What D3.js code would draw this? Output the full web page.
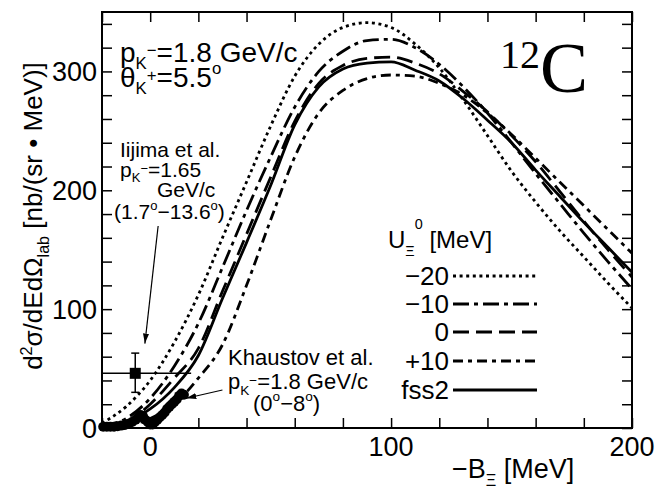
<!DOCTYPE html>
<html>
<head>
<meta charset="utf-8">
<title>12C Xi spectrum</title>
<style>
body { margin: 0; background: #fff; }
text { font-family: "Liberation Sans", Arial, sans-serif; fill: #000; }
.frame { fill: none; stroke: #000; stroke-width: 2px; }
.curve { fill: none; stroke: #000; stroke-width: 2.8px; }
</style>
</head>
<body>
<script src="https://cdn.jsdelivr.net/npm/d3@7"></script>
<script>

// -B_Xi grid [MeV] and calculated spectra [nb/(sr MeV)]
var xGrid = [-20,-10,0,10,20,30,40,50,60,70,80,90,100,110,120,130,140,150,160,170,180,190,200];
var uM20 = [4,18,40,72,112,160,207,254,296,323,337,341,337,323,303,276,246,216,190,166,144,122,101];
var uM10 = [2,8,25,52,88,135,183,228,270,300,317,326,327,320,306,287,265,240,214,189,164,140,117];
var u0   = [1,5,20,42,67,115,163,211,258,290,305,311,312,307,298,283,266,246,224,199,174,150,127];
var uP10 = [0.5,2,8,20,42,70,120,175,228,265,284,294,297,296,290,280,265,247,227,207,187,167,147];
var fss2 = [1,5,16,34,61,109,156,204,255,287,302,307,308,301,292,277,259,240,217,195,173,152,131];

// Khaustov et al. data points
var khX = [-19.5,-18,-16.5,-15,-13.5,-12,-10.5,-9,-7.5,-6,-5,-4,-3,-2,-1,0,1,2,3,4,5,6,7,8,9,10,11,12,13,14];
var khY = [1,1,1,1,1.5,2,2.5,3.5,5,7,9,11,10,7,5,3,3,5,7,9,11,13,16,18,20,22,24,27,29,28];

// Iijima et al. point
var ijX = -6.2, ijY = 46, ijXerr = [-20, 17], ijYerr = [30, 63];

var xTicks = d3.range(-20, 201, 20);
var yTicks = d3.range(0, 341, 20);
var xLabels = [0, 100, 200];
var yLabels = [0, 100, 200, 300];

var legendNames = ["\u221220", "\u221210", "0", "+10", "fss2"];
var dashes = ["3,3.6", "16,5,4,5", "16,7", "10,5,4,5", null];
var series = [uM20, uM10, u0, uP10, fss2];

var width = 656, height = 490;
var x = d3.scaleLinear().domain([-20, 200]).range([102, 632]);
var y = d3.scaleLinear().domain([0, 350]).range([428, 12]);

var svg = d3.select("body").append("svg")
    .attr("width", width)
    .attr("height", height);

svg.append("defs").append("clipPath").attr("id", "clip")
  .append("rect")
    .attr("x", x(-20)).attr("y", y(350))
    .attr("width", x(200) - x(-20)).attr("height", y(0) - y(350));

svg.append("defs").append("marker")
    .attr("id", "arrow")
    .attr("viewBox", "0 0 10 6")
    .attr("refX", 10).attr("refY", 3)
    .attr("markerWidth", 10).attr("markerHeight", 6)
    .attr("markerUnits", "userSpaceOnUse")
    .attr("orient", "auto")
  .append("path")
    .attr("d", "M0,0L10,3L0,6Z")
    .attr("fill", "#000");

// rich text with sub/superscripts: parts = [text, shift(em, +down), scale]
function rich(sel, px, py, size, parts, anchor) {
  var t = sel.append("text").attr("x", px).attr("y", py)
      .style("font-size", size + "px")
      .attr("text-anchor", anchor || "start");
  var cur = 0;
  parts.forEach(function(p) {
    var off = (p[1] || 0) * size;
    t.append("tspan")
      .attr("dy", off - cur)
      .style("font-size", (p[2] || 1) * size + "px")
      .text(p[0]);
    cur = off;
  });
  return t;
}

// curves
var line = d3.line()
    .x(function(d) { return x(d[0]); })
    .y(function(d) { return y(d[1]); })
    .curve(d3.curveMonotoneX);

var curves = svg.append("g").attr("clip-path", "url(#clip)");
series.forEach(function(s, i) {
  curves.append("path")
    .attr("class", "curve")
    .attr("d", line(xGrid.map(function(v, j) { return [v, s[j]]; })))
    .attr("stroke-dasharray", dashes[i]);
});

// Iijima point
curves.append("line")
    .attr("x1", x(ijXerr[0])).attr("x2", x(ijXerr[1]))
    .attr("y1", y(ijY)).attr("y2", y(ijY))
    .attr("stroke", "#000").attr("stroke-width", 1.5);
curves.append("line")
    .attr("x1", x(ijX)).attr("x2", x(ijX))
    .attr("y1", y(ijYerr[0])).attr("y2", y(ijYerr[1]))
    .attr("stroke", "#000").attr("stroke-width", 1.5);
[ijYerr[0], ijYerr[1]].forEach(function(v) {
  curves.append("line")
    .attr("x1", x(ijX) - 4).attr("x2", x(ijX) + 4)
    .attr("y1", y(v)).attr("y2", y(v))
    .attr("stroke", "#000").attr("stroke-width", 1.5);
});
curves.append("rect")
    .attr("x", x(ijX) - 5.5).attr("y", y(ijY) - 5.5)
    .attr("width", 11).attr("height", 11)
    .attr("fill", "#000");

// axes, ticks inward on all four sides
function noLabel(d) { return ""; }
function dropDomain(g) { g.select(".domain").remove(); }
svg.append("g")
    .attr("transform", "translate(0," + y(0) + ")")
    .call(d3.axisBottom(x).tickValues(xTicks).tickSize(-10).tickFormat(noLabel))
    .call(dropDomain);
svg.append("g")
    .attr("transform", "translate(0," + y(350) + ")")
    .call(d3.axisTop(x).tickValues(xTicks).tickSize(-10).tickFormat(noLabel))
    .call(dropDomain);
svg.append("g")
    .attr("transform", "translate(" + x(-20) + ",0)")
    .call(d3.axisLeft(y).tickValues(yTicks).tickSize(-10).tickFormat(noLabel))
    .call(dropDomain);
svg.append("g")
    .attr("transform", "translate(" + x(200) + ",0)")
    .call(d3.axisRight(y).tickValues(yTicks).tickSize(-10).tickFormat(noLabel))
    .call(dropDomain);
svg.selectAll(".tick line").attr("stroke", "#000").attr("stroke-width", 1.5);

svg.append("rect").attr("class", "frame")
    .attr("x", x(-20)).attr("y", y(350))
    .attr("width", x(200) - x(-20)).attr("height", y(0) - y(350));

// Khaustov points (drawn over the frame, not clipped)
svg.selectAll("circle.kh")
  .data(khX.map(function(v, i) { return [v, khY[i]]; }))
  .enter().append("circle")
    .attr("class", "kh")
    .attr("cx", function(d) { return x(d[0]); })
    .attr("cy", function(d) { return y(d[1]); })
    .attr("r", 5)
    .attr("fill", "#000");

// tick labels
svg.selectAll("text.xl").data(xLabels).enter().append("text")
    .attr("class", "xl")
    .attr("x", function(d) { return x(d); })
    .attr("y", 456)
    .attr("text-anchor", "middle")
    .style("font-size", "27px")
    .text(function(d) { return d; });
svg.selectAll("text.yl").data(yLabels).enter().append("text")
    .attr("class", "yl")
    .attr("x", 97)
    .attr("y", function(d) { return y(d) + 10; })
    .attr("text-anchor", "end")
    .style("font-size", "27px")
    .text(function(d) { return d; });

// axis titles
rich(svg, 452, 478, 27, [["\u2212B"], ["\u039E", 0.3, 0.6], [" [MeV]", 0]]);
var yt = rich(svg, 0, 0, 26, [["d"], ["2", -0.38, 0.62], ["\u03C3/dEd\u03A9", 0], ["lab", 0.25, 0.62], ["  [nb/(sr \u2022 MeV)]", 0]], "middle");
yt.attr("transform", "translate(42,216) rotate(-90)");

// kinematics
rich(svg, 120, 62, 28, [["p"], ["K", 0.25, 0.6], ["\u2212", -0.2, 0.6], ["=1.8 GeV/c", 0]]);
rich(svg, 120, 87, 28, [["\u03B8"], ["K", 0.25, 0.6], ["+", -0.2, 0.6], ["=5.5", 0], ["o", -0.45, 0.6]]);

// target label
svg.append("text")
    .attr("x", 500).attr("y", 92)
    .style("font-family", "'Liberation Serif', 'Times New Roman', serif")
    .style("font-size", "72px")
    .call(function(t) {
      t.append("tspan").attr("dy", -24).style("font-size", "40px").text("12");
      t.append("tspan").attr("dy", 24).text("C");
    });

// Iijima annotation
var ij = svg.append("g");
ij.append("text").attr("x", 120).attr("y", 157).style("font-size", "21px").text("Iijima et al.");
rich(ij, 120, 177, 21, [["p"], ["K", 0.25, 0.62], ["\u2212", -0.2, 0.62], ["=1.65", 0]]);
ij.append("text").attr("x", 157).attr("y", 197).style("font-size", "21px").text("GeV/c");
rich(ij, 114, 219, 21, [["(1.7"], ["o", -0.45, 0.62], ["\u221213.6", 0], ["o", -0.45, 0.62], [")", 0]]);
svg.append("line")
    .attr("x1", x(3.3)).attr("y1", y(170))
    .attr("x2", x(-2.2)).attr("y2", y(71))
    .attr("stroke", "#000").attr("stroke-width", 1.2)
    .attr("marker-end", "url(#arrow)");

// Khaustov annotation
var kh = svg.append("g");
kh.append("text").attr("x", 228).attr("y", 365).style("font-size", "22px").text("Khaustov et al.");
rich(kh, 228, 389, 22, [["p"], ["K", 0.25, 0.62], ["\u2212", -0.2, 0.62], ["=1.8 GeV/c", 0]]);
rich(kh, 253, 411, 22, [["(0"], ["o", -0.45, 0.62], ["\u22128", 0], ["o", -0.45, 0.62], [")", 0]]);
svg.append("line")
    .attr("x1", x(30)).attr("y1", y(32))
    .attr("x2", x(15)).attr("y2", y(25))
    .attr("stroke", "#000").attr("stroke-width", 1.2)
    .attr("marker-end", "url(#arrow)");

// legend
var lg = svg.append("g");
rich(lg, 388, 248, 24, [["U"], ["\u039E", 0.35, 0.6], ["0", -0.8, 0.6], [" [MeV]", 0]]);
var legY = [276, 304, 332, 361, 390];
legendNames.forEach(function(n, i) {
  lg.append("text")
    .attr("x", 449).attr("y", legY[i] + 9)
    .attr("text-anchor", "end")
    .style("font-size", "26px")
    .text(n);
  lg.append("line")
    .attr("x1", 453).attr("x2", 537)
    .attr("y1", legY[i]).attr("y2", legY[i])
    .attr("class", "curve")
    .attr("stroke-dasharray", dashes[i]);
});

</script>
</body>
</html>
